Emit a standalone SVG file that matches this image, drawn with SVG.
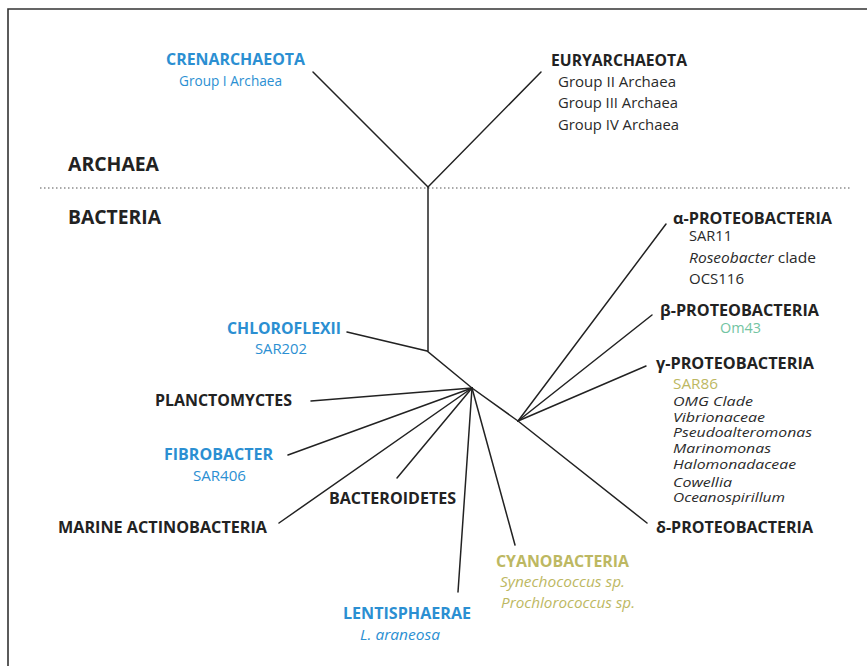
<svg xmlns="http://www.w3.org/2000/svg" width="867" height="666" viewBox="0 0 867 666">
<style>
text{font-family:"Open Sans","Noto Sans","Liberation Sans",sans-serif}
.h{font-size:16px;font-weight:bold;fill:#222}
.s{font-size:14px;fill:#2a2a2a}
.g{font-size:13.5px}
.i{font-style:italic}
.blue{fill:#2b8fd2}
.olive{fill:#bdb862}
.green{fill:#72c4a2}
.big{font-size:19px;font-weight:bold;fill:#222}
.br{stroke:#222;stroke-width:1.5;fill:none;stroke-linecap:round}
</style>
<rect width="867" height="666" fill="#fff"/>
<path d="M8 666 V9 H867" fill="none" stroke="#333" stroke-width="1.6"/>
<line x1="40" y1="188" x2="851" y2="188" stroke="#555" stroke-width="1.2" stroke-dasharray="1.5 2.5"/>
<text class="big" x="68" y="171" textLength="91" lengthAdjust="spacingAndGlyphs">ARCHAEA</text>
<text class="big" x="68" y="224" textLength="93" lengthAdjust="spacingAndGlyphs">BACTERIA</text>
<g id="connectors">
<path class="br" d="M313 72 L428 187 L541 72"/>
<path class="br" d="M428 187 V351"/>
<path class="br" d="M347 332 L427 351 L472 388 L518 421"/>
<path class="br" d="M472 388 L311 401"/>
<path class="br" d="M472 388 L288 455"/>
<path class="br" d="M472 388 L279 523"/>
<path class="br" d="M472 388 L397 478"/>
<path class="br" d="M472 388 L458 592"/>
<path class="br" d="M472 388 L515 545"/>
<path class="br" d="M518 421 L666 224"/>
<path class="br" d="M518 421 L652 315"/>
<path class="br" d="M518 421 L646 366"/>
<path class="br" d="M518 421 L647 523"/>
</g>
<g id="crenarchaeota">
<text class="h blue" x="166" y="65" textLength="139" lengthAdjust="spacingAndGlyphs">CRENARCHAEOTA</text>
<text class="s blue" x="179" y="86" textLength="103" lengthAdjust="spacingAndGlyphs">Group I Archaea</text>
</g>
<g id="euryarchaeota">
<text class="h" x="551" y="66" textLength="136" lengthAdjust="spacingAndGlyphs">EURYARCHAEOTA</text>
<text class="s" x="558" y="87" textLength="118" lengthAdjust="spacingAndGlyphs">Group II Archaea</text>
<text class="s" x="558" y="108" textLength="120" lengthAdjust="spacingAndGlyphs">Group III Archaea</text>
<text class="s" x="558" y="130" textLength="121" lengthAdjust="spacingAndGlyphs">Group IV Archaea</text>
</g>
<g id="chloroflexii">
<text class="h blue" x="227" y="334" textLength="114" lengthAdjust="spacingAndGlyphs">CHLOROFLEXII</text>
<text class="s blue" x="255" y="354" textLength="52" lengthAdjust="spacingAndGlyphs">SAR202</text>
</g>
<g id="planctomyctes">
<text class="h" x="155" y="406" textLength="137" lengthAdjust="spacingAndGlyphs">PLANCTOMYCTES</text>
</g>
<g id="fibrobacter">
<text class="h blue" x="164" y="460" textLength="109" lengthAdjust="spacingAndGlyphs">FIBROBACTER</text>
<text class="s blue" x="193" y="481" textLength="53" lengthAdjust="spacingAndGlyphs">SAR406</text>
</g>
<g id="marine-actinobacteria">
<text class="h" x="58" y="533" textLength="209" lengthAdjust="spacingAndGlyphs">MARINE ACTINOBACTERIA</text>
</g>
<g id="bacteroidetes">
<text class="h" x="329" y="504" textLength="127" lengthAdjust="spacingAndGlyphs">BACTEROIDETES</text>
</g>
<g id="lentisphaerae">
<text class="h blue" x="343" y="619" textLength="128" lengthAdjust="spacingAndGlyphs">LENTISPHAERAE</text>
<text class="s i blue" x="360" y="640" textLength="80" lengthAdjust="spacingAndGlyphs">L. araneosa</text>
</g>
<g id="cyanobacteria">
<text class="h olive" x="496" y="567" textLength="133" lengthAdjust="spacingAndGlyphs">CYANOBACTERIA</text>
<text class="s i olive" x="500" y="587" textLength="125" lengthAdjust="spacingAndGlyphs">Synechococcus sp.</text>
<text class="s i olive" x="501" y="608" textLength="134" lengthAdjust="spacingAndGlyphs">Prochlorococcus sp.</text>
</g>
<g id="alpha-proteobacteria">
<text class="h" x="673" y="224" textLength="159" lengthAdjust="spacingAndGlyphs">α-PROTEOBACTERIA</text>
<text class="s" x="689" y="241" textLength="43" lengthAdjust="spacingAndGlyphs">SAR11</text>
<text class="s" x="689" y="263" textLength="127" lengthAdjust="spacingAndGlyphs"><tspan class="i">Roseobacter</tspan> clade</text>
<text class="s" x="689" y="284" textLength="55" lengthAdjust="spacingAndGlyphs">OCS116</text>
</g>
<g id="beta-proteobacteria">
<text class="h" x="660" y="316" textLength="159" lengthAdjust="spacingAndGlyphs">β-PROTEOBACTERIA</text>
<text class="s green" x="720" y="333" textLength="41" lengthAdjust="spacingAndGlyphs">Om43</text>
</g>
<g id="gamma-proteobacteria">
<text class="h" x="656" y="369" textLength="158" lengthAdjust="spacingAndGlyphs">γ-PROTEOBACTERIA</text>
<text class="s olive" x="673" y="389" textLength="45" lengthAdjust="spacingAndGlyphs">SAR86</text>
<text class="s g i" x="673" y="406" textLength="80" lengthAdjust="spacingAndGlyphs">OMG Clade</text>
<text class="s g i" x="673" y="422" textLength="92" lengthAdjust="spacingAndGlyphs">Vibrionaceae</text>
<text class="s g i" x="673" y="437" textLength="139" lengthAdjust="spacingAndGlyphs">Pseudoalteromonas</text>
<text class="s g i" x="673" y="453" textLength="98" lengthAdjust="spacingAndGlyphs">Marinomonas</text>
<text class="s g i" x="673" y="469" textLength="123" lengthAdjust="spacingAndGlyphs">Halomonadaceae</text>
<text class="s g i" x="673" y="487" textLength="59" lengthAdjust="spacingAndGlyphs">Cowellia</text>
<text class="s g i" x="673" y="502" textLength="112" lengthAdjust="spacingAndGlyphs">Oceanospirillum</text>
</g>
<g id="delta-proteobacteria">
<text class="h" x="656" y="533" textLength="157" lengthAdjust="spacingAndGlyphs">δ-PROTEOBACTERIA</text>
</g>
</svg>
